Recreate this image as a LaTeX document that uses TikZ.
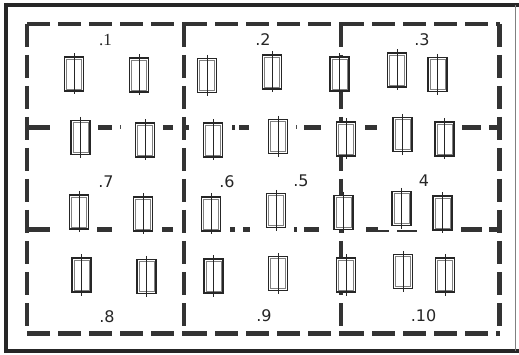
\documentclass[tikz,border=0pt]{standalone}
\usepackage{fontspec}
\setmainfont{DejaVu Sans}
\newfontfamily\serifnum{Liberation Serif}
\begin{document}
\begin{tikzpicture}[x=1pt,y=-1pt,
  wall/.style={line width=4.4pt,draw=black!80,dash pattern=on 23pt off 8pt},
  seg/.style={line width=4.4pt,draw=black!80},
  thin seg/.style={line width=1.6pt,draw=black!80},
  lbl/.style={font=\fontsize{16}{16}\selectfont,inner sep=0pt,text=black!85},
  comp/.pic={
    \draw[line width=1.3pt,fill=white,draw=black!85] (-9.5,-17) rectangle (9.5,17);
    \draw[line width=0.6pt,draw=black!50] (-7.3,-15) rectangle (7.3,15);
    \draw[line width=0.9pt,draw=black!85] (0,-20.5) -- (0,20.5);
  }]
\useasboundingbox (0,0) rectangle (519,355);
\fill[white] (0,0) rectangle (519,355);
% outer frame
\draw[line width=4pt,draw=black!85] (6,3) -- (6,353);
\draw[line width=4pt,draw=black!85] (4,5) -- (519,5);
\draw[line width=4pt,draw=black!85] (4,351) -- (519,351);
\draw[line width=1pt,draw=black!50] (515,5) -- (515,351);
% dashed outline and column separators
\coordinate (tl) at (27,24);
\coordinate (tr) at (499.5,24);
\coordinate (bl) at (27,333.5);
\coordinate (br) at (499.5,333.5);
\coordinate (t1) at (184,24);
\coordinate (t2) at (341,24);
\coordinate (b1) at (184,333.5);
\coordinate (b2) at (341,333.5);
\draw[wall] (tl) -- (t1);
\draw[wall] (t1) -- (t2);
\draw[wall] (t2) -- (tr);
\draw[wall] (bl) -- (b1);
\draw[wall] (b1) -- (b2);
\draw[wall] (b2) -- (br);
\draw[wall] (tl) -- (bl);
\draw[wall] (tr) -- (br);
\draw[wall] (t1) -- (b1);
\draw[wall] (t2) -- (b2);
% row-2 separator (broken)
\draw[seg] (27,127.5) -- (50,127.5);
\draw[seg] (98,127.5) -- (112,127.5);
\draw[line width=1pt,draw=black!70] (120,125.5) -- (120,129.5);
\draw[seg] (163,127.5) -- (173,127.5);
\draw[seg] (184,127.5) -- (189,127.5);
\draw[seg] (232,127.5) -- (235,127.5);
\draw[seg] (239,127.5) -- (249,127.5);
\draw[line width=1pt,draw=black!70] (296,125.5) -- (296,129.5);
\draw[seg] (304,127.5) -- (321,127.5);
\draw[seg] (365,127.5) -- (377,127.5);
\draw[seg] (462,127.5) -- (481,127.5);
\draw[seg] (489,127.5) -- (499.5,127.5);
% row-3 separator (broken)
\draw[seg] (27,229.5) -- (50,229.5);
\draw[seg] (97,229.5) -- (112,229.5);
\draw[seg] (162,229.5) -- (173,229.5);
\draw[seg] (230,229.5) -- (235,229.5);
\draw[seg] (243,229.5) -- (250,229.5);
\draw[seg] (294,229.5) -- (297,229.5);
\draw[seg] (304,229.5) -- (319,229.5);
\draw[seg] (366,229.5) -- (378,229.5);
\draw[thin seg] (378,231) -- (389,231);
\draw[thin seg] (397,231) -- (417,231);
\draw[seg] (461,229.5) -- (482,229.5);
\draw[seg] (489,229.5) -- (499.5,229.5);
% components
\foreach \n/\x/\y in {
  a1/74/74, a2/139/75, a3/207/75.5, a4/272/72, a5/339.5/74, a6/397/70, a7/437.5/74.5,
  b1/80.5/137.5, b2/145/140, b3/213/140, b4/278/136.5, b5/346/139, b6/402.5/134.5, b7/444.5/139,
  c1/79/212, c2/143/214, c3/211/214, c4/276/210.5, c5/343.5/212.5, c6/401.5/208.5, c7/442.5/213,
  d1/81.5/275, d2/146.5/276.5, d3/213.5/276, d4/278/273.5, d5/346/275, d6/403/271.5, d7/445/275}
  \pic (\n) at (\x,\y) {comp};
% labels
\node[lbl,font=\serifnum\fontsize{17}{17}\selectfont] (l1) at (105.5,40) {.1};
\node[lbl] (l2) at (263,40) {.2};
\node[lbl] (l3) at (422,40) {.3};
\node[lbl] (l7) at (106,182) {.7};
\node[lbl] (l6) at (227,182) {.6};
\node[lbl] (l5) at (301,181) {.5};
\node[lbl] (l4) at (424,181) {4};
\node[lbl] (l8) at (107,317) {.8};
\node[lbl] (l9) at (264,316) {.9};
\node[lbl] (l10) at (423.5,316) {.10};
\end{tikzpicture}
\end{document}
